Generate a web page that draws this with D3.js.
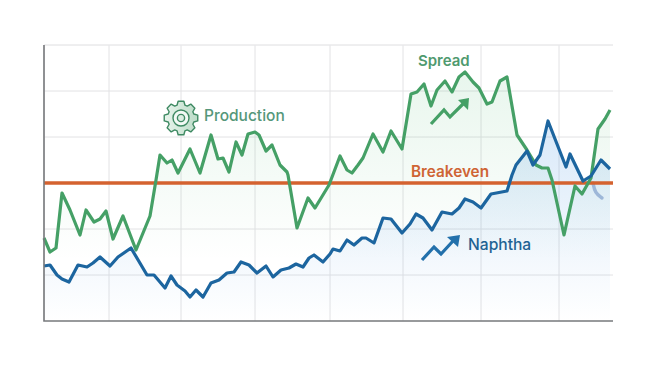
<!DOCTYPE html>
<html><head><meta charset="utf-8">
<script src="https://cdn.jsdelivr.net/npm/d3@7/dist/d3.min.js"></script>
<style>html,body{margin:0;background:#fff}svg{display:block}text{font-family:Inter,"Open Sans",sans-serif}</style>
</head><body><svg id="c" width="658" height="367"></svg>
<script>
const spreadX=[0,6,12,18,26,36,42,50,56,62,69,79,92,106,112,116,123,128,134,146,156,167,174,179,185,192,198,204,211,215,222,228,236,243,244,253,264,271,285,296,303,308,314,319,329,339,347,358,367,373,380,387,393,401,408,415,421,429,435,443,448,456,463,473,483,492,498,504,508,520,531,538,547,554,561,566];
const spreadY=[83,69,73,128,111,86,111,99,102,110,82,105,71,105,141,166,158,161,148,172,148,186,162,163,149,179,166,187,189,186,170,176,156,149,146,93,123,113,136,165,151,148,156,163,187,169,190,172,227,229,237,215,231,240,229,244,249,239,233,217,219,240,244,186,171,156,153,153,141,86,135,127,143,192,202,211];
const naphthaX=[0,6,13,18,25,34,43,49,56,66,74,87,103,110,121,127,133,141,146,152,159,167,175,183,190,197,205,213,222,229,237,245,252,259,265,270,279,286,289,296,303,310,318,322,330,339,347,358,366,372,379,388,398,408,415,421,429,437,447,463,468,472,483,489,496,504,522,526,539,547,557,566];
const naphthaY=[55,56,46,42,39,56,54,58,64,55,64,73,46,46,33,45,36,30,24,31,24,38,41,48,49,59,56,48,55,44,51,53,57,54,63,66,59,67,72,70,81,76,83,83,78,103,102,88,97,107,103,91,109,107,113,122,119,113,127,130,146,156,170,156,166,200,154,167,140,145,161,152];
const gridX=[0,65,137,211,286,359,437,515];
const gridY=[46,92,138,184,230,276];
const breakeven=138;
const labels=[
 {t:"Production",x:160,y:200,c:"#55977a",w:500,s:15.5},
 {t:"Spread",x:374,y:255,c:"#4f9a6f",w:600,s:15},
 {t:"Breakeven",x:367,y:144,c:"#cf6434",w:600,s:15.3},
 {t:"Naphtha",x:424,y:71,c:"#1f6393",w:500,s:15.6}];
const arrowGreen=[[387,197],[400,211],[406,204],[420,218]];
const headGreen=[[425,223],[414,221],[424,211]];
const arrowBlue=[[378,61],[390,74],[397,67],[409,80]];
const headBlue=[[416,86],[403,84],[414,74]];
const ghost=[[549,138],[551,128],[558,123]];

const svg=d3.select("#c"),W=[44,613],H=[321,45];
const x=d3.scaleLinear().domain([0,569]).range(W);
const y=d3.scaleLinear().domain([0,276]).range(H);
const defs=svg.append("defs");
function grad(id,c,y0,a0,y1,a1){
  const g=defs.append("linearGradient").attr("id",id).attr("gradientUnits","userSpaceOnUse")
    .attr("x1",0).attr("x2",0).attr("y1",y(y0)).attr("y2",y(y1));
  g.append("stop").attr("offset",0).attr("stop-color",c).attr("stop-opacity",a0);
  g.append("stop").attr("offset",1).attr("stop-color",c).attr("stop-opacity",a1);
}
grad("gG","#4fb873",250,.13,60,0);
grad("gB","#3f8fe0",200,.2,0,0);
const gearG=defs.append("linearGradient").attr("id","gearF");
gearG.append("stop").attr("offset",0).attr("stop-color","#e8f4ec");
gearG.append("stop").attr("offset",1).attr("stop-color","#bcdcc8");

const gridG=svg.append("g").attr("stroke","#e2e2e4").attr("stroke-width",1).attr("fill","none");
gridG.selectAll(".v").data(gridX).join("line").attr("x1",d=>x(d)).attr("x2",d=>x(d)).attr("y1",y(0)).attr("y2",y(276));
gridG.selectAll(".h").data(gridY).join("line").attr("x1",x(0)).attr("x2",x(569)).attr("y1",d=>y(d)).attr("y2",d=>y(d));
gridG.append("line").attr("x1",x(0)).attr("x2",x(569)).attr("y1",y(276)).attr("y2",y(276)).attr("stroke","#ececee");

const pts=(a,b)=>a.map((v,i)=>[v,b[i]]);
const S=pts(spreadX,spreadY),N=pts(naphthaX,naphthaY);
const area=d3.area().x(d=>x(d[0])).y0(y(0)).y1(d=>y(d[1]));
const line=d3.line().x(d=>x(d[0])).y(d=>y(d[1]));
svg.append("path").attr("d",area(S)).attr("fill","url(#gG)");
svg.append("path").attr("d",area(N)).attr("fill","url(#gB)");

svg.append("path").attr("d",d3.line().curve(d3.curveBasis).x(d=>x(d[0])).y(d=>y(d[1]))(ghost))
  .attr("fill","none").attr("stroke","#9db7d8").attr("stroke-width",3.4).attr("stroke-linecap","round");

svg.append("line").attr("x1",x(0)).attr("x2",x(569)).attr("y1",y(breakeven)).attr("y2",y(breakeven))
  .attr("stroke","#d4622f").attr("stroke-width",3.6);

svg.append("path").attr("d",line(S)).attr("fill","none").attr("stroke","#45a066").attr("stroke-width",3.2).attr("stroke-linejoin","round");
svg.append("path").attr("d",line(N)).attr("fill","none").attr("stroke","#1c659f").attr("stroke-width",3.2).attr("stroke-linejoin","round");

svg.append("path").attr("d",`M${x(0)},${y(276)}V${y(0)}H${x(569)}`).attr("fill","none").attr("stroke","#77797c").attr("stroke-width",1.6);

function arrow(l,h,c){
  svg.append("path").attr("d",line(l)).attr("fill","none").attr("stroke",c).attr("stroke-width",3.2);
  svg.append("path").attr("d",line(h)+"Z").attr("fill",c);
}
arrow(arrowGreen,headGreen,"#45a066");
arrow(arrowBlue,headBlue,"#2270ab");

// gear icon
const gc=[181,118],teeth=8,ro=17,ri=13.4;
const gp=d3.path();
for(let i=0;i<teeth;i++){
  const a=i*2*Math.PI/teeth-Math.PI/2,w=.2,g=.24;
  const P=(r,t)=>[gc[0]+r*Math.cos(t),gc[1]+r*Math.sin(t)];
  const seq=[P(ri,a-g-.06),P(ro,a-w+.03),P(ro,a+w-.03),P(ri,a+g+.06)];
  seq.forEach((p,j)=>{(i===0&&j===0)?gp.moveTo(...p):gp.lineTo(...p)});
}
gp.closePath();
const gear=svg.append("g").attr("stroke","#3f8a63").attr("stroke-width",1.4);
gear.append("path").attr("d",gp.toString()).attr("fill","url(#gearF)").attr("stroke-linejoin","round");
gear.append("circle").attr("cx",gc[0]).attr("cy",gc[1]).attr("r",8).attr("fill","#f3f9f5");
gear.append("circle").attr("cx",gc[0]).attr("cy",gc[1]).attr("r",3.6).attr("fill","#dcede2");

svg.selectAll(".lbl").data(labels).join("text").attr("class","lbl")
  .attr("x",d=>x(d.x)).attr("y",d=>y(d.y)).attr("fill",d=>d.c).attr("font-weight",d=>d.w).attr("font-size",d=>d.s).text(d=>d.t);
</script></body></html>
